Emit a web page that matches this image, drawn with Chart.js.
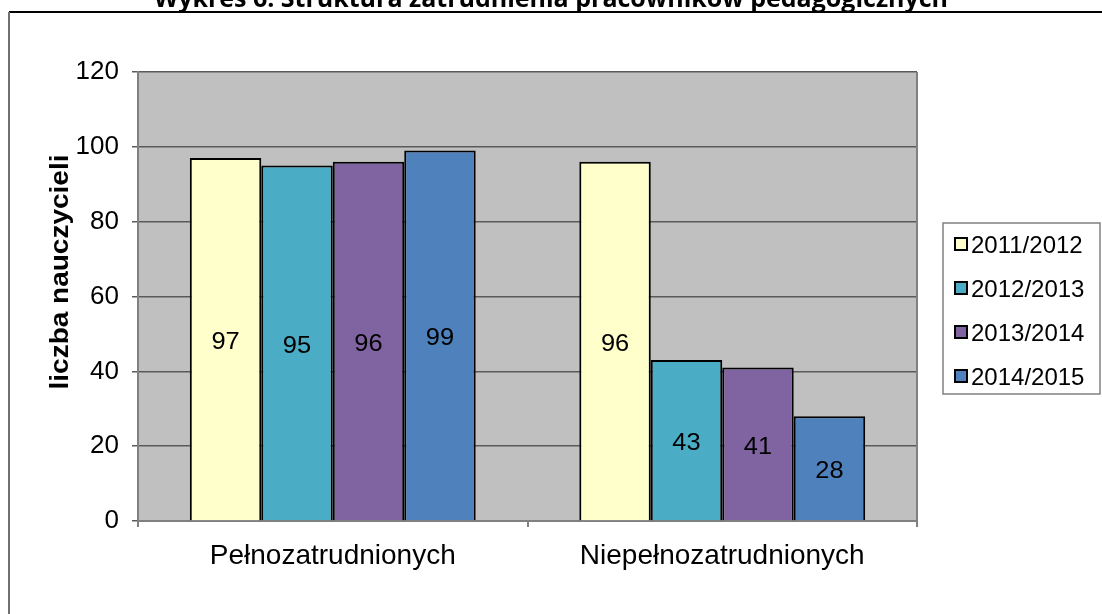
<!DOCTYPE html>
<html>
<head>
<meta charset="utf-8">
<script src="https://cdn.jsdelivr.net/npm/chart.js@4/dist/chart.umd.min.js"></script>
<style>
	html, body { margin: 0; padding: 0; background: #fff; }
	#wrap { width: 1102px; height: 614px; }
</style>
</head>
<body>
<div id="wrap"><canvas id="chartZatr" width="1102" height="614"></canvas></div>
<script>
// Dane z wykresu
var kategorie = ["Pełnozatrudnionych", "Niepełnozatrudnionych"];
var lata = ["2011/2012", "2012/2013", "2013/2014", "2014/2015"];
var rok2011 = [97, 96];
var rok2012 = [95, 43];
var rok2013 = [96, 41];
var rok2014 = [99, 28];
var kolory = ["#FFFFCC", "#4BACC6", "#8064A2", "#4F81BD"];
var tytul = "Wykres 6. Struktura zatrudnienia pracowników pedagogicznych";
var tytulOsiY = "liczba nauczycieli";

// tekst lekko rozciagniety w poziomie (jak w oryginale)
function tekst(ctx, t, x, y, sx) {
	ctx.save();
	ctx.translate(x, y);
	ctx.scale(sx, 1);
	ctx.fillText(t, 0, 0);
	ctx.restore();
}

// Tlo, ramki, etykiety, legenda
var rysujDodatki = {
	id: 'rysujDodatki',
	beforeDraw: function(chart) {
		var ctx = chart.ctx, a = chart.chartArea;
		ctx.save();
		ctx.fillStyle = '#fff';
		ctx.fillRect(0, 0, chart.width, chart.height);
		ctx.fillStyle = '#C0C0C0';
		ctx.fillRect(a.left, a.top, a.right - a.left, a.bottom - a.top);
		ctx.restore();
	},
	afterDraw: function(chart) {
		var ctx = chart.ctx, a = chart.chartArea;
		ctx.save();
		// ramka wykresu
		ctx.strokeStyle = '#808080';
		ctx.lineWidth = 2;
		ctx.beginPath();
		ctx.moveTo(a.right, a.top);
		ctx.lineTo(a.right, a.bottom);
		ctx.stroke();
		// ramka zewnetrzna
		ctx.strokeStyle = '#000';
		ctx.lineWidth = 2;
		ctx.beginPath();
		ctx.moveTo(1102, 12);
		ctx.lineTo(9, 12);
		ctx.stroke();
		ctx.strokeStyle = '#707070';
		ctx.beginPath();
		ctx.moveTo(9, 12);
		ctx.lineTo(9, 614);
		ctx.stroke();
		// tytul
		ctx.fillStyle = '#000';
		ctx.font = 'bold 25px "Open Sans"';
		ctx.textAlign = 'center';
		ctx.textBaseline = 'alphabetic';
		ctx.fillText(tytul, 551, 7, 808);
		// tytul osi Y
		ctx.save();
		ctx.translate(61, 272);
		ctx.rotate(-Math.PI / 2);
		ctx.scale(1.12, 1);
		ctx.font = 'bold 25px "Liberation Sans"';
		ctx.textBaseline = 'middle';
		ctx.fillText(tytulOsiY, 0, 0);
		ctx.restore();
		// etykiety wartosci
		ctx.font = '24px "Liberation Sans"';
		ctx.textAlign = 'center';
		ctx.textBaseline = 'middle';
		chart.data.datasets.forEach(function(ds, i) {
			chart.getDatasetMeta(i).data.forEach(function(bar, j) {
				tekst(ctx, ds.data[j], bar.x, (bar.y + bar.base) / 2 + 3, 1.06);
			});
		});
		// legenda
		ctx.strokeStyle = '#808080';
		ctx.lineWidth = 1.5;
		ctx.strokeRect(943, 223, 157, 171);
		ctx.textAlign = 'left';
		ctx.font = '24px "Liberation Sans"';
		chart.data.datasets.forEach(function(ds, i) {
			var y = 244 + i * 44;
			ctx.fillStyle = ds.backgroundColor;
			ctx.fillRect(955, y - 6, 12, 12);
			ctx.strokeStyle = '#000';
			ctx.lineWidth = 2;
			ctx.strokeRect(955, y - 6, 12, 12);
			ctx.fillStyle = '#000';
			tekst(ctx, ds.label, 971, y + 2, 1.0);
		});
		ctx.restore();
	}
};

var zestawy = [rok2011, rok2012, rok2013, rok2014].map(function(dane, i) {
	return {
		label: lata[i],
		data: dane,
		backgroundColor: kolory[i],
		borderColor: '#000',
		borderWidth: 2,
		categoryPercentage: 0.734,
		barPercentage: 1.0
	};
});

var ctxZatr = document.getElementById("chartZatr");
var chartZatr = new Chart(ctxZatr, {
	type: 'bar',
	data: { labels: kategorie, datasets: zestawy },
	plugins: [rysujDodatki],
	options: {
		responsive: false,
		animation: false,
		layout: { padding: { left: 0, right: 185, top: 72, bottom: 0 } },
		plugins: { legend: { display: false }, tooltip: { enabled: false }, title: { display: false } },
		scales: {
			x: {
				offset: true,
				grid: { offset: true, drawOnChartArea: false, color: '#808080', tickLength: 6, lineWidth: 2 },
				border: { color: '#808080', width: 2 },
				ticks: { color: '#000', font: { family: 'Liberation Sans', size: 28 }, padding: 12 },
				afterFit: function(s) { s.height = 93; }
			},
			y: {
				min: 0,
				max: 120,
				ticks: { stepSize: 20, color: '#000', font: { family: 'Liberation Sans', size: 26 }, padding: 13 },
				grid: { color: '#5a5a5a', lineWidth: 1.5, tickLength: 6 },
				border: { color: '#808080', width: 2 },
				afterFit: function(s) { s.width = 138; }
			}
		}
	}
});
</script>
</body>
</html>
